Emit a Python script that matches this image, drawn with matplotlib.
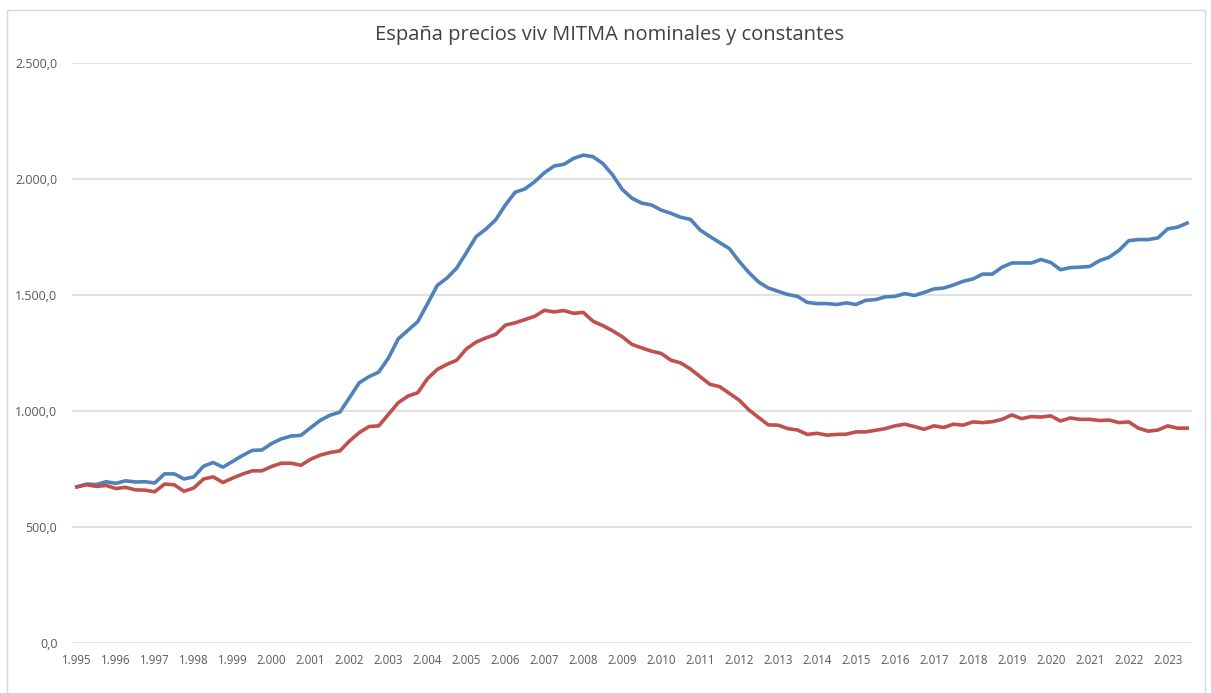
import matplotlib
matplotlib.use("Agg")
import matplotlib.pyplot as plt
from matplotlib.patches import Rectangle

# precio medio m2 vivienda libre, trimestral 1995T1 - 2023T3
nominales = [
    673, 685, 683, 695, 688, 699, 694, 695, 690, 729, 729, 707, 716, 762, 778, 758,
    783, 808, 830, 832, 860, 880, 892, 895, 928, 960, 982, 995, 1058, 1122, 1148, 1168,
    1229, 1311, 1348, 1385, 1462, 1541, 1573, 1616, 1683, 1752, 1784, 1824, 1888, 1943, 1957, 1988,
    2027, 2056, 2063, 2089, 2103, 2096, 2067, 2018, 1955, 1917, 1896, 1888, 1866, 1852, 1835, 1826,
    1780, 1752, 1726, 1700, 1645, 1597, 1556, 1530, 1516, 1502, 1494, 1468, 1463, 1463, 1459, 1466,
    1459, 1477, 1480, 1492, 1494, 1506, 1498, 1511, 1526, 1530, 1543, 1559, 1569, 1590, 1590, 1620,
    1638, 1638, 1638, 1653, 1640, 1609, 1618, 1620, 1623, 1648, 1663, 1692, 1734, 1739, 1739, 1746,
    1785, 1792, 1810,
]
constantes = [
    673, 682, 675, 679, 666, 671, 660, 659, 652, 685, 682, 654, 668, 707, 716, 692,
    711, 728, 742, 742, 761, 775, 775, 766, 792, 810, 821, 828, 871, 907, 933, 936,
    986, 1036, 1064, 1079, 1139, 1179, 1201, 1219, 1268, 1297, 1315, 1330, 1370, 1380, 1394, 1408,
    1434, 1427, 1433, 1421, 1425, 1387, 1368, 1346, 1320, 1287, 1272, 1258, 1248, 1219, 1207, 1181,
    1148, 1115, 1105, 1076, 1047, 1005, 972, 940, 939, 924, 918, 899, 904, 896, 899, 900,
    910, 910, 917, 924, 936, 943, 933, 921, 936, 929, 943, 939, 953, 950, 954, 964,
    983, 967, 976, 974, 979, 957, 970, 964, 964, 959, 961, 950, 953, 926, 913, 918,
    936, 926, 926,
]
anios = list(range(1995, 2024))
yticks = [0, 500, 1000, 1500, 2000, 2500]


def miles(v, dec=0):
    s = f"{v:,.{dec}f}"
    return s.replace(",", "X").replace(".", ",").replace("X", ".")


plt.rcParams["font.family"] = ["Open Sans", "DejaVu Sans"]

fig = plt.figure(figsize=(12.11, 6.93), dpi=100)
ax = fig.add_axes([72 / 1211, 1 - 643 / 693, (1192 - 72) / 1211, (643 - 63) / 693])

x = list(range(len(nominales)))
ax.plot(x, nominales, color="#4f81bd", lw=2.6, solid_joinstyle="round", zorder=3)
ax.plot(x, constantes, color="#c0504d", lw=2.6, solid_joinstyle="round", zorder=3)

ax.set_xlim(-0.5, len(nominales) - 0.5)
ax.set_ylim(0, 2500)
ax.set_yticks(yticks)
ax.set_yticklabels([miles(v, 1) for v in yticks])
ax.set_xticks([4 * k for k in range(len(anios))])
ax.set_xticklabels([miles(a) for a in anios])

ax.grid(axis="y", color="#d9d9d9", lw=1.1)
ax.set_axisbelow(True)
for s in ax.spines.values():
    s.set_visible(False)
ax.tick_params(length=0, labelsize=8.3, colors="#595959")
ax.tick_params(axis="y", pad=10.5, labelsize=9)
ax.tick_params(axis="x", pad=8)

fig.text(610 / 1211, 1 - 35 / 693, "España precios viv MITMA nominales y constantes",
         ha="center", va="center", fontsize=14.5, color="#404040")

fig.patches.append(Rectangle((7 / 1211, -0.01), 1198 / 1211, 1 - 10 / 693 + 0.01,
                             transform=fig.transFigure, fill=False,
                             edgecolor="#d9d9d9", lw=1))

fig.savefig("out.png", dpi=100)
